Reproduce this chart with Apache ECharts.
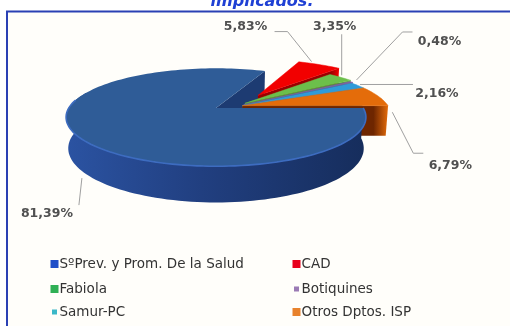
<!DOCTYPE html>
<html>
<head>
<meta charset="utf-8">
<script src="https://cdn.jsdelivr.net/npm/echarts@6/dist/echarts.min.js"></script>
<style>
html,body{margin:0;padding:0;background:#ffffff;}
#chart{width:510px;height:326px;}
</style>
</head>
<body>
<div id="chart"></div>
<script>
// Departments and their share of the total (percent)
const categories = ['SºPrev. y Prom. De la Salud', 'CAD', 'Fabiola', 'Botiquines', 'Samur-PC', 'Otros Dptos. ISP'];
const shares = [81.39, 5.83, 3.35, 0.48, 2.16, 6.79];

// Colours: top faces, cut faces, legend swatches
const topColors = ['#2f5c97', '#f20000', '#6cbf4b', '#7e60a2', '#2f9bd8', '#e46c0a'];
const faceColors = ['#1d3b72', '#990000', '#3f8a2a', '#4f3a70', '#1b6a9a', '#6e2600'];
const swatchColors = ['#1f4ec8', '#e8001c', '#2fb055', '#9b7bb5', '#3bb8c8', '#e8822c'];

// 3D view of the pie (world units = pie radius)
const VIEW = { cx: 216, cy: 108, f: 736, dist: 5, elev: 18.7 * Math.PI / 180 };
const THICK = 0.22;
const START_DEG = 0;             // first slice starts at 3 o'clock, running clockwise
const EXPLODE = [[0, 0], [0.30, 0.28], [0.20, 0.10], [0.19, 0.07], [0.18, 0.05], [0.18, 0.05]];

// Leader lines and value labels, relative to each slice's rim midpoint
const LEADERS = [
  { path: [[3, 41], [0, 68]], label: [-32, 77] },
  { path: [[-8, -3], [-32, -33], [-45, -33]], label: [-74, -38] },
  { path: [[1, -2], [1, -43]], label: [-6, -51] },
  { path: [[5, -2], [51, -50], [61, -50]], label: [88, -40] },
  { path: [[2, -1], [55, -1]], label: [79, 8] },
  { path: [[14, 16], [35, 57], [45, 57]], label: [72, 70] }
];

function project(X, Y, Z) {
  const c = Math.cos(VIEW.elev), s = Math.sin(VIEW.elev);
  const depth = VIEW.dist + Y * c - Z * s;
  const up = Y * s + Z * c;
  return [VIEW.cx + VIEW.f * X / depth, VIEW.cy - VIEW.f * up / depth];
}
const rad = d => d * Math.PI / 180;
function rimPoint(off, deg, Z) {
  return project(Math.cos(rad(deg)) + off[0], Math.sin(rad(deg)) + off[1], Z);
}
function arc(off, fromDeg, toDeg, Z) {
  const n = Math.max(2, Math.ceil(Math.abs(toDeg - fromDeg) / 2));
  const pts = [];
  for (let k = 0; k <= n; k++) pts.push(rimPoint(off, fromDeg + (toDeg - fromDeg) * k / n, Z));
  return pts;
}
const fmt = v => v.toFixed(2).replace('.', ',') + '%';

function renderSlice(params, api) {
  const i = params.dataIndex;
  const total = shares.reduce((a, b) => a + b, 0);
  let hi = START_DEG;
  for (let j = 0; j < i; j++) hi -= shares[j] / total * 360;
  const lo = hi - api.value(0) / total * 360;
  const off = EXPLODE[i];
  const isMain = i === 0;
  const children = [];
  const apexTop = project(off[0], off[1], 0);
  const apexBot = project(off[0], off[1], -THICK);

  // cut face at the clockwise edge
  children.push({
    type: 'polygon', z2: isMain ? 0 : 1,
    shape: { points: [apexTop, rimPoint(off, lo, 0), rimPoint(off, lo, -THICK), apexBot] },
    style: {
      fill: isMain ? faceColors[i] : {
        type: 'linear', x: 0, y: 0, x2: 1, y2: 0,
        colorStops: [{ offset: 0, color: faceColors[i] }, { offset: 0.9, color: faceColors[i] }, { offset: 1, color: topColors[i] }]
      }
    }
  });

  // outer wall on the near side (runs a little past the silhouette so the ends close behind the top)
  const wLo = Math.max(lo, -200), wHi = Math.min(hi, 0);
  if (wHi > wLo) {
    const top = arc(off, wLo, wHi, 0);
    const bot = arc(off, wHi, wLo, -THICK);
    children.push({
      type: 'polygon', z2: 3,
      shape: { points: top.concat(bot) },
      style: {
        fill: {
          type: 'linear', x: 0, y: 0, x2: 1, y2: 0,
          colorStops: [{ offset: 0, color: '#2b53a2' }, { offset: 0.45, color: '#213f80' }, { offset: 1, color: '#162d5c' }]
        }
      }
    });
    children.push({
      type: 'polyline', z2: 5,
      shape: { points: arc(off, Math.max(wLo, -190), wHi, 0) },
      style: { stroke: '#3d6cc0', lineWidth: 1.6, fill: null }
    });
  }

  // top face
  children.push({
    type: 'polygon', z2: isMain ? 4 : 2,
    shape: { points: [apexTop].concat(arc(off, lo, hi, 0)) },
    style: { fill: topColors[i], stroke: isMain ? null : topColors[i], lineWidth: 0.5 }
  });

  // leader line and value label
  const anchor = rimPoint(off, (lo + hi) / 2, 0);
  const L = LEADERS[i];
  children.push({
    type: 'polyline', z2: 6,
    shape: { points: L.path.map(p => [anchor[0] + p[0], anchor[1] + p[1]]) },
    style: { stroke: '#a0a0a0', lineWidth: 1, fill: null }
  });
  children.push({
    type: 'text', z2: 7,
    x: anchor[0] + L.label[0], y: anchor[1] + L.label[1],
    style: {
      text: fmt(api.value(0)), fill: '#505050',
      font: 'bold 12.5px "DejaVu Sans"', align: 'center', verticalAlign: 'middle'
    }
  });
  return { type: 'group', children: children };
}

// Legend: two columns, three rows
const LEGEND_COLS = [50, 292];
const LEGEND_ROWS = [264, 289, 312];
const SWATCH = [8, 8, 8, 5, 5, 8];
const legendItems = [];
categories.forEach((name, i) => {
  const x = LEGEND_COLS[i % 2], y = LEGEND_ROWS[Math.floor(i / 2)];
  const s = SWATCH[i];
  legendItems.push({
    type: 'rect', z: 5,
    shape: { x: x + (8 - s) / 2 + 0.5, y: y - s / 2, width: s, height: s },
    style: { fill: swatchColors[i] }
  });
  legendItems.push({
    type: 'text', z: 5, x: x + 9.5, y: y,
    style: { text: name, fill: '#333333', font: '13.5px "DejaVu Sans"', verticalAlign: 'middle' }
  });
});

const chart = echarts.init(document.getElementById('chart'), null, { renderer: 'canvas' });
chart.setOption({
  animation: false,
  backgroundColor: '#ffffff',
  graphic: [
    {
      type: 'rect', z: 0,
      shape: { x: 7, y: 11.5, width: 530, height: 340 },
      style: { fill: '#fffefa', stroke: '#2a40b4', lineWidth: 2 }
    },
    {
      type: 'text', z: 10, x: 262, y: 1.5,
      style: { text: 'implicados.', fill: '#1f40d4', font: 'italic bold 16px "DejaVu Sans"', align: 'center', verticalAlign: 'middle' }
    }
  ].concat(legendItems),
  series: [{
    type: 'custom',
    coordinateSystem: 'none',
    silent: true,
    renderItem: renderSlice,
    data: shares.map((v, i) => ({ name: categories[i], value: v }))
  }]
});
</script>
</body>
</html>
